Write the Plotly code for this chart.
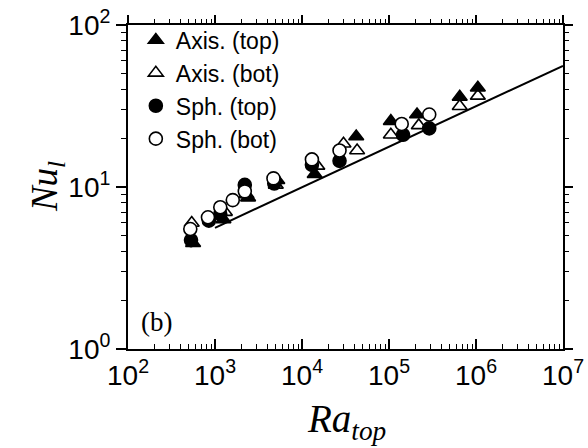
import plotly.graph_objects as go

# Axis (top) - filled triangles
axis_top_ra = [560, 1250, 2400, 5200, 14000, 42000, 105000, 210000, 650000, 1050000]
axis_top_nu = [4.5, 6.3, 8.6, 11.0, 12.0, 20.5, 25.5, 28.0, 36.0, 41.0]
# Axis (bot) - open triangles
axis_bot_ra = [540, 1300, 2300, 5000, 15000, 30000, 43000, 105000, 220000, 650000, 1050000]
axis_bot_nu = [6.0, 7.0, 9.0, 10.3, 13.5, 18.5, 16.8, 21.0, 24.0, 31.5, 36.5]
# Sph. (top) - filled circles
sph_top_ra = [530, 850, 1150, 2200, 4800, 13000, 27000, 145000, 290000]
sph_top_nu = [4.7, 6.2, 6.8, 10.3, 10.5, 13.7, 14.5, 21.0, 23.0]
# Sph. (bot) - open circles
sph_bot_ra = [520, 830, 1150, 1600, 2200, 4700, 13000, 27000, 140000, 290000]
sph_bot_nu = [5.5, 6.5, 7.5, 8.3, 9.4, 11.3, 14.8, 16.8, 24.5, 28.0]
# reference line
line_ra = [1e3, 1e7]
line_nu = [5.6, 56.0]

x_major = [1e2, 1e3, 1e4, 1e5, 1e6, 1e7]
x_labels = ["10<sup>2</sup>", "10<sup>3</sup>", "10<sup>4</sup>", "10<sup>5</sup>", "10<sup>6</sup>", "10<sup>7</sup>"]
y_major = [1, 10, 100]
y_labels = ["10<sup>0</sup>", "10<sup>1</sup>", "10<sup>2</sup>"]

x_minor = [m * 10 ** e for e in range(2, 7) for m in range(2, 10)]
y_minor = [m * 10 ** e for e in range(0, 2) for m in range(2, 10)]

fig = go.Figure()
fig.add_trace(go.Scatter(x=line_ra, y=line_nu, mode="lines",
                         line=dict(color="black", width=2), showlegend=False, hoverinfo="skip"))

series = [
    ("Axis. (top)", axis_top_ra, axis_top_nu, "triangle-up", "black"),
    ("Axis. (bot)", axis_bot_ra, axis_bot_nu, "triangle-up-open", "black"),
    ("Sph. (top)", sph_top_ra, sph_top_nu, "circle", "black"),
    ("Sph. (bot)", sph_bot_ra, sph_bot_nu, "circle", "white"),
]
for i, (name, xs, ys, sym, col) in enumerate(series):
    fig.add_trace(go.Scatter(
        x=xs, y=ys, mode="markers", name=name, legendgroup=f"g{i}",
        marker=dict(symbol=sym, size=13, color=col,
                    line=dict(color="black", width=1.6)),
    ))

# dummy trace for mirrored axes
fig.add_trace(go.Scatter(x=line_ra, y=line_nu, xaxis="x2", yaxis="y2", mode="lines",
                         line=dict(width=0), opacity=0, showlegend=False, hoverinfo="skip"))

axfont = dict(family="Liberation Sans, Arial, sans-serif", size=28, color="black")
titlefont = dict(family="Liberation Serif, Times New Roman, serif", size=39, color="black")
fig.update_layout(
    width=588, height=448,
    margin=dict(l=128, r=25, t=25, b=99),
    paper_bgcolor="white", plot_bgcolor="white",
    xaxis=dict(type="log", range=[2, 7], tickvals=x_major, ticktext=x_labels, automargin=False,
               ticklabeloverflow="allow",
               ticks="inside", ticklen=10, tickwidth=1.5, tickcolor="black",
               minor=dict(tickvals=x_minor, ticks="inside", ticklen=5, tickwidth=1, tickcolor="black"),
               showline=True, linecolor="black", linewidth=2, showgrid=False, zeroline=False,
               tickfont=axfont),
    yaxis=dict(type="log", range=[0, 2], tickvals=y_major, ticktext=y_labels, automargin=False,
               ticklabeloverflow="allow",
               ticks="outside", ticklen=10, tickwidth=1.5, tickcolor="black",
               minor=dict(tickvals=y_minor, ticks="outside", ticklen=5, tickwidth=1, tickcolor="black"),
               showline=True, linecolor="black", linewidth=2, showgrid=False, zeroline=False,
               tickfont=axfont),
    xaxis2=dict(type="log", range=[2, 7], overlaying="x", side="top", anchor="y", automargin=False,
                tickvals=x_major, showticklabels=False,
                ticks="outside", ticklen=8, tickwidth=1.5, tickcolor="black",
                minor=dict(tickvals=x_minor, ticks="outside", ticklen=4, tickwidth=1, tickcolor="black"),
                showline=True, linecolor="black", linewidth=2, showgrid=False, zeroline=False),
    yaxis2=dict(type="log", range=[0, 2], overlaying="y", side="right", anchor="x", automargin=False,
                tickvals=y_major, showticklabels=False,
                ticks="outside", ticklen=8, tickwidth=1.5, tickcolor="black",
                minor=dict(tickvals=y_minor, ticks="outside", ticklen=4, tickwidth=1, tickcolor="black"),
                showline=True, linecolor="black", linewidth=2, showgrid=False, zeroline=False),
    legend=dict(x=0.018, y=1.02, xanchor="left", yanchor="top",
                bgcolor="rgba(0,0,0,0)", borderwidth=0,
                traceorder="grouped", tracegroupgap=0, itemwidth=30,
                font=dict(family="Liberation Sans, Arial, sans-serif", size=23, color="black")),
    showlegend=True,
)
fig.add_annotation(text="<i>Ra<sub>top</sub></i>", xref="paper", yref="paper", x=0.503, y=-0.225,
                   xanchor="center", yanchor="middle", showarrow=False, font=titlefont)
fig.add_annotation(text="<i>Nu<sub>l</sub></i>", xref="paper", yref="paper", x=-0.186, y=0.5,
                   xanchor="center", yanchor="middle", showarrow=False, textangle=-90,
                   font=dict(family="Liberation Serif, Times New Roman, serif", size=37, color="black"))
fig.add_annotation(text="(b)", xref="paper", yref="paper", x=0.025, y=0.03,
                   xanchor="left", yanchor="bottom", showarrow=False,
                   font=dict(family="Liberation Serif, Times New Roman, serif", size=27, color="black"))

fig.write_html("out.html", config={"displayModeBar": False},
               post_script="document.body.style.margin='0';document.body.style.overflow='hidden';")
